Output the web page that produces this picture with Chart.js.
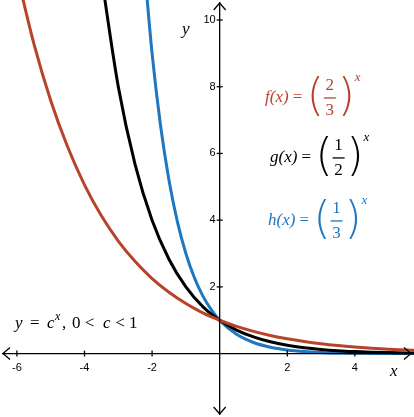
<!DOCTYPE html><html><head><script src="https://cdn.jsdelivr.net/npm/chart.js@4"></script>
<style>body{margin:0;background:#fff}#w{width:414px;height:417px}</style></head><body><div id="w"><canvas id="c"></canvas></div>
<script>
const xTicks=[-6,-4,-2,2,4];
const yTicks=[2,4,6,8,10];
const redX=[-6,-5.5,-5,-4.5,-4,-3.5,-3,-2.5,-2,-1.5,-1,-0.5,0,0.5,1,1.5,2,2.5,3,3.5,4,4.5,5,5.5,6];
const redY=[11.39,9.30,7.59,6.20,5.06,4.13,3.375,2.76,2.25,1.84,1.5,1.22,1,0.816,0.667,0.544,0.444,0.363,0.296,0.242,0.198,0.161,0.132,0.107,0.088];
const blackX=[-3.5,-3,-2.5,-2,-1.5,-1,-0.5,0,0.5,1,1.5,2,2.5,3,3.5,4,4.5,5,5.5,6];
const blackY=[11.31,8,5.66,4,2.83,2,1.41,1,0.707,0.5,0.354,0.25,0.177,0.125,0.088,0.0625,0.044,0.031,0.022,0.016];
const blueX=[-2.25,-2,-1.75,-1.5,-1.25,-1,-0.75,-0.5,-0.25,0,0.5,1,1.5,2,2.5,3,3.5,4,5,6];
const blueY=[11.84,9,6.84,5.20,3.95,3,2.28,1.73,1.32,1,0.577,0.333,0.192,0.111,0.064,0.037,0.021,0.012,0.004,0.001];
const RED='#b8432b',BLUE='#1f77c0',BLACK='#000';
const pts=(xs,ys)=>xs.map((x,i)=>({x,y:ys[i]}));
const ds=(xs,ys,c)=>({data:pts(xs,ys),borderColor:c,borderWidth:3,pointRadius:0,showLine:true,cubicInterpolationMode:'monotone'});
const axes={id:'axes',afterDatasetsDraw(ch){
 const c=ch.ctx,X=ch.scales.x,Y=ch.scales.y;const x0=X.getPixelForValue(0),y0=Y.getPixelForValue(0);
 c.save();c.strokeStyle='#000';c.fillStyle='#000';c.lineWidth=1.3;
 c.beginPath();c.moveTo(2,y0);c.lineTo(412,y0);c.moveTo(x0,2);c.lineTo(x0,415);c.stroke();
 c.beginPath();c.moveTo(10,y0-6);c.lineTo(3,y0);c.lineTo(10,y0+6);
 c.moveTo(404,y0-6);c.lineTo(411,y0);c.lineTo(404,y0+6);
 c.moveTo(x0-6,10);c.lineTo(x0,3);c.lineTo(x0+6,10);
 c.moveTo(x0-6,407);c.lineTo(x0,414);c.lineTo(x0+6,407);c.stroke();
 c.font='11px "Liberation Sans",Arial';c.textAlign='center';c.textBaseline='top';
 xTicks.forEach(t=>{const p=X.getPixelForValue(t);c.beginPath();c.moveTo(p,y0-3);c.lineTo(p,y0+3);c.stroke();c.fillText(t<0?'-'+(-t):t,p,y0+9);});
 c.textAlign='right';c.textBaseline='middle';
 yTicks.forEach(t=>{const p=Y.getPixelForValue(t);c.beginPath();c.moveTo(x0-3,p);c.lineTo(x0+3,p);c.stroke();c.fillText(t,x0-4,p);});
 c.font='italic 17px "Liberation Serif",serif';c.textAlign='left';c.textBaseline='alphabetic';
 c.fillText('x',390,376);c.fillText('y',182,34);
 function frac(name,num,den,col,x,y){c.fillStyle=col;c.font='italic 17px "Liberation Serif",serif';c.textBaseline='middle';c.textAlign='left';
  c.fillText(name,x,y);let w=c.measureText(name).width;c.font='17px "Liberation Serif",serif';c.fillText(' = ',x+w,y);w+=c.measureText(' = ').width;
  c.font='300 44px "DejaVu Sans"';c.fillText('(',x+w,y+1);let px=x+w+c.measureText('(').width;
  c.font='17px "Liberation Serif",serif';c.textAlign='center';c.fillText(num,px+6,y-12);c.fillText(den,px+6,y+13);
  c.fillRect(px,y-0.7,12,1.3);c.textAlign='left';c.font='300 44px "DejaVu Sans"';c.fillText(')',px+14,y+1);
  c.font='italic 13px "Liberation Serif",serif';c.fillText('x',px+14+c.measureText(')').width*0+17,y-20);}
 frac('f(x)','2','3',RED,265,98);frac('g(x)','1','2',BLACK,270,158);frac('h(x)','1','3',BLUE,268,221);
 c.fillStyle='#000';c.font='italic 17px "Liberation Serif",serif';c.textBaseline='alphabetic';c.textAlign='left';
 c.fillText('y',15,328);c.font='17px "Liberation Serif",serif';c.fillText('=',30,328);c.font='italic 17px "Liberation Serif",serif';c.fillText('c',47,328);
 c.font='italic 12px "Liberation Serif",serif';c.fillText('x',55,320);c.font='17px "Liberation Serif",serif';c.fillText(',',62,328);c.fillText('0 < ',72,328);
 c.font='italic 17px "Liberation Serif",serif';c.fillText('c',103,328);c.font='17px "Liberation Serif",serif';c.fillText(' < 1',111,328);
 c.restore();}};
new Chart(document.getElementById('c'),{type:'scatter',data:{datasets:[ds(redX,redY,RED),ds(blackX,blackY,BLACK),ds(blueX,blueY,BLUE)]},
options:{responsive:true,maintainAspectRatio:false,animation:false,layout:{padding:0},plugins:{legend:{display:false},tooltip:{enabled:false}},
scales:{x:{type:'linear',min:-6.5,max:5.75,display:false},y:{type:'linear',min:-1.9,max:10.6,display:false}}},plugins:[axes]});
</script></body></html>
